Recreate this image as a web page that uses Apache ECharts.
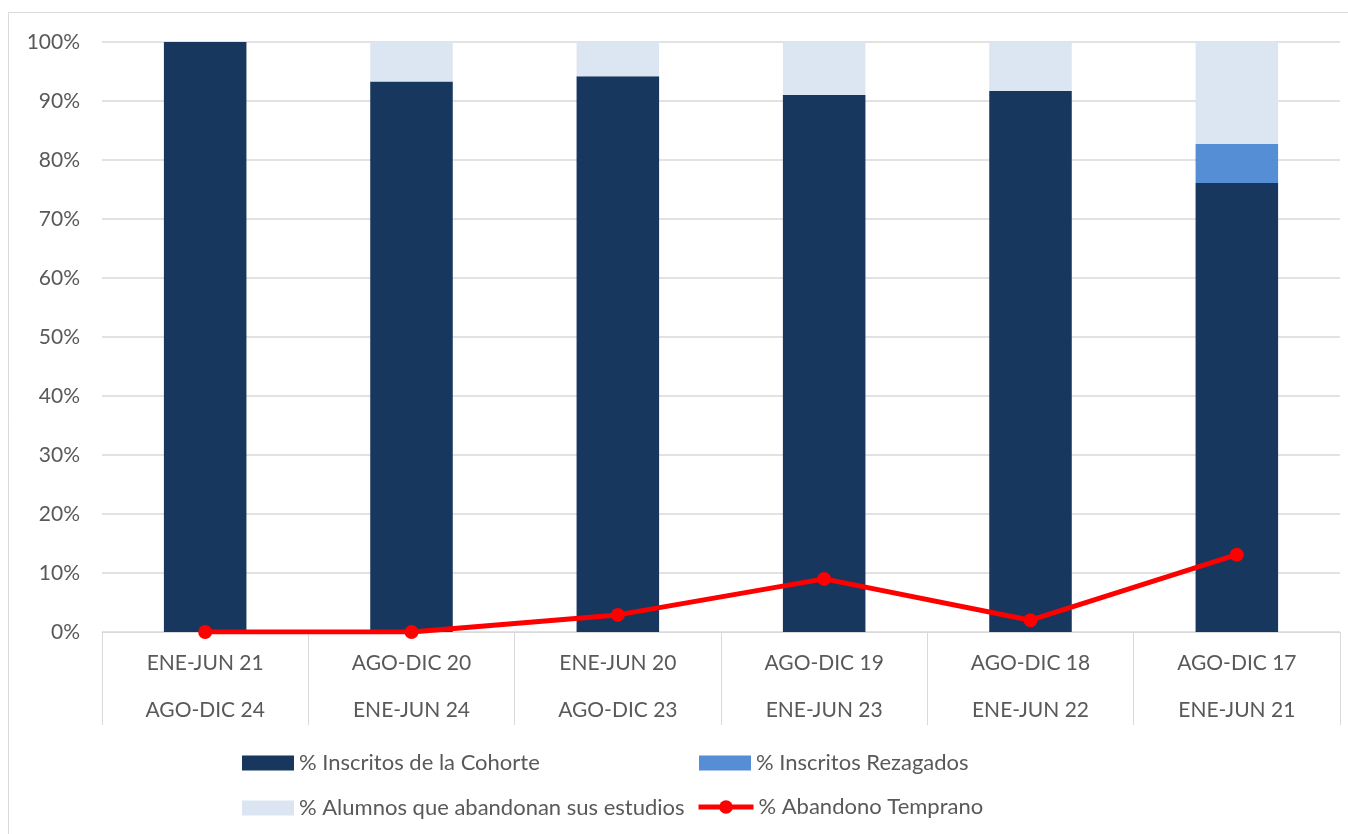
<!DOCTYPE html>
<html><head><meta charset="utf-8">
<script src="https://cdn.jsdelivr.net/npm/echarts@6/dist/echarts.min.js"></script>
<style>html,body{margin:0;padding:0;background:#fff}#c{width:1348px;height:834px}</style>
</head><body><div id="c"></div>
<script>
const categories = ['ENE-JUN 21\nAGO-DIC 24','AGO-DIC 20\nENE-JUN 24','ENE-JUN 20\nAGO-DIC 23','AGO-DIC 19\nENE-JUN 23','AGO-DIC 18\nENE-JUN 22','AGO-DIC 17\nENE-JUN 21'];
const cohorte = [100, 93.3, 94.2, 91.0, 91.7, 76.1];
const rezagados = [0, 0, 0, 0, 0, 6.6];
const abandonan = [0, 6.7, 5.8, 9.0, 8.3, 17.3];
const temprano = [0, 0, 2.9, 9.0, 2.0, 13.1];
const names = ['% Inscritos de la Cohorte','% Inscritos Rezagados','% Alumnos que abandonan sus estudios','% Abandono Temprano'];

const font = 'Lato, "Open Sans", sans-serif';
const txt = '#595959';
const chart = echarts.init(document.getElementById('c'));
const legendBase = {padding: 0, itemWidth: 52, itemHeight: 15, itemGap: 0, icon: 'rect',
  textStyle: {fontFamily: font, fontSize: 22, color: txt}};
chart.setOption({
  animation: false,
  textStyle: {fontFamily: font},
  graphic: [{type: 'rect', shape: {x: 8.5, y: 12.5, width: 1350, height: 830}, style: {fill: 'none', stroke: '#d9d9d9', lineWidth: 1}}],
  grid: {left: 102, right: 8, top: 42, bottom: 202},
  legend: [
    Object.assign({}, legendBase, {data: [names[0]], left: 242, top: 752}),
    Object.assign({}, legendBase, {data: [names[1]], left: 699, top: 752}),
    Object.assign({}, legendBase, {data: [names[2]], left: 242, top: 797}),
    Object.assign({}, legendBase, {data: [names[3]], left: 696, top: 796, icon: null, itemHeight: 17, itemWidth: 55, lineStyle: {width: 5}})
  ],
  xAxis: {
    type: 'category', data: categories,
    axisLine: {lineStyle: {color: '#d9d9d9', width: 1}},
    axisTick: {show: true, length: 93, interval: 0, lineStyle: {color: '#d9d9d9', width: 1}},
    axisLabel: {color: txt, fontSize: 21, fontFamily: font, lineHeight: 47, margin: 8, interval: 0}
  },
  yAxis: {
    type: 'value', min: 0, max: 100, interval: 10,
    axisLabel: {formatter: '{value}%', color: txt, fontSize: 21, fontFamily: font, margin: 22},
    axisLine: {show: false}, axisTick: {show: false},
    splitLine: {lineStyle: {color: '#d9d9d9', width: 1.5}}
  },
  series: [
    {name: names[0], type: 'bar', stack: 't', barWidth: '40%', data: cohorte, itemStyle: {color: '#17375e'}},
    {name: names[1], type: 'bar', stack: 't', data: rezagados, itemStyle: {color: '#558ed5'}},
    {name: names[2], type: 'bar', stack: 't', data: abandonan, itemStyle: {color: '#dce6f2'}},
    {name: names[3], type: 'line', data: temprano, z: 10, symbol: 'circle', symbolSize: 14,
     lineStyle: {color: '#ff0000', width: 5}, itemStyle: {color: '#ff0000'}}
  ]
});
</script></body></html>
